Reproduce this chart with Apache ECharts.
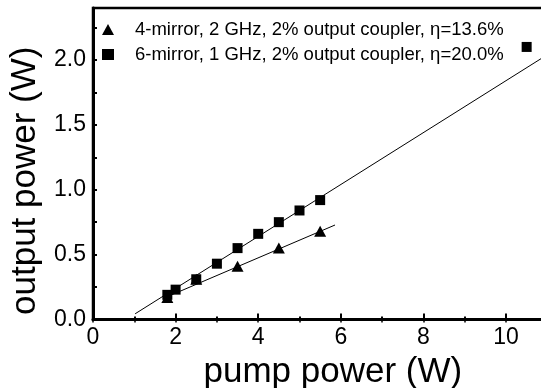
<!DOCTYPE html>
<html>
<head>
<meta charset="utf-8">
<script src="https://cdn.jsdelivr.net/npm/echarts@6/dist/echarts.min.js"></script>
<style>
html,body{margin:0;padding:0;background:#fff;}
#c{width:541px;height:388px;}
</style>
</head>
<body>
<div id="c"></div>
<script>
// Data
const legendNames = ['4-mirror, 2 GHz, 2% output coupler, \u03b7=13.6%', '6-mirror, 1 GHz, 2% output coupler, \u03b7=20.0%'];
const pumpTri = [1.8, 2.5, 3.5, 4.5, 5.5];
const outTri = [0.17, 0.31, 0.41, 0.55, 0.68];
const pumpSq = [1.8, 2.0, 2.5, 3.0, 3.5, 4.0, 4.5, 5.0, 5.5, 10.5];
const outSq = [0.19, 0.23, 0.31, 0.43, 0.55, 0.66, 0.75, 0.84, 0.92, 2.10];
const fitTriX = [1.75, 5.86];
const fitTriY = [0.169, 0.728];
const fitSqX = [1.02, 12];
const fitSqY = [0.044, 2.24];
const yLabelValues = [0, 0.5, 1.0, 1.5, 2.0];
const yTickValues = [0, 0.25, 0.5, 0.75, 1.0, 1.25, 1.5, 1.75, 2.0, 2.25];

const zip = (a, b) => a.map((v, i) => [v, b[i]]);
const FONT = 'Liberation Sans, Arial, sans-serif';
const GRID = {left: 93, top: 8, bottom: 68.5, right: -47.6, outerBoundsMode: 'none'};

const chart = echarts.init(document.getElementById('c'), null, {renderer: 'canvas'});
chart.setOption({
  animation: false,
  backgroundColor: '#fff',
  grid: [
    Object.assign({show: true, borderColor: '#000', borderWidth: 2.5, backgroundColor: 'transparent'}, GRID),
    Object.assign({}, GRID)
  ],
  legend: {
    orient: 'vertical', left: 97, top: 15,
    itemWidth: 12, itemHeight: 11, itemGap: 6,
    data: [
      {name: legendNames[0], icon: 'triangle'},
      {name: legendNames[1], icon: 'rect'}
    ],
    textStyle: {fontFamily: FONT, fontSize: 18.5, color: '#000', lineHeight: 18, padding: [0, 0, 0, 16]},
    itemStyle: {color: '#000', opacity: 1}
  },
  xAxis: [{
    gridIndex: 0, type: 'value', min: 0, max: 12, interval: 2, position: 'bottom',
    name: 'pump power (W)', nameLocation: 'middle', nameGap: 23,
    nameTextStyle: {fontFamily: FONT, fontSize: 35, color: '#000', lineHeight: 35, padding: [0, 16, 0, 0]},
    axisLine: {show: true, lineStyle: {color: '#000', width: 3}},
    axisTick: {show: true, inside: true, length: 6, lineStyle: {color: '#000', width: 2}},
    minorTick: {show: true, splitNumber: 2, length: 3, lineStyle: {color: '#000', width: 2}},
    axisLabel: {fontFamily: FONT, fontSize: 23, color: '#000', margin: 7},
    splitLine: {show: false}
  }, {
    gridIndex: 1, type: 'value', min: 0, max: 12, interval: 1, position: 'top',
    axisLine: {show: true, lineStyle: {color: '#000', width: 2}},
    axisTick: {show: true, inside: true, length: 3, lineStyle: {color: '#000', width: 1.5}},
    axisLabel: {show: false},
    splitLine: {show: false}
  }],
  yAxis: [{
    gridIndex: 0, type: 'value', min: 0, max: 2.4,
    name: 'output power (W)', nameLocation: 'middle', nameGap: 35,
    nameTextStyle: {fontFamily: FONT, fontSize: 35, color: '#000', lineHeight: 35, padding: [0, 34, 0, 0]},
    axisLine: {show: true, lineStyle: {color: '#000', width: 3}},
    axisTick: {show: true, inside: true, length: 4, customValues: yTickValues, lineStyle: {color: '#000', width: 2}},
    axisLabel: {fontFamily: FONT, fontSize: 23, color: '#000', margin: 7, customValues: yLabelValues,
      formatter: v => v.toFixed(1)},
    splitLine: {show: false}
  }, {
    gridIndex: 1, type: 'value', min: 0, max: 2.4, show: false
  }],
  series: [
    {name: 'fitTri', type: 'line', data: zip(fitTriX, fitTriY), showSymbol: false, symbol: 'none',
      lineStyle: {color: '#000', width: 1}, silent: true, z: 1},
    {name: 'fitSq', type: 'line', data: zip(fitSqX, fitSqY), showSymbol: false, symbol: 'none',
      lineStyle: {color: '#000', width: 1}, silent: true, z: 1},
    {name: legendNames[0], type: 'scatter', data: zip(pumpTri, outTri), symbol: 'triangle', symbolSize: [12, 11],
      itemStyle: {color: '#000', opacity: 1}, z: 3},
    {name: legendNames[1], type: 'scatter', data: zip(pumpSq, outSq), symbol: 'rect', symbolSize: 10,
      itemStyle: {color: '#000', opacity: 1}, z: 3}
  ]
});
</script>
</body>
</html>
